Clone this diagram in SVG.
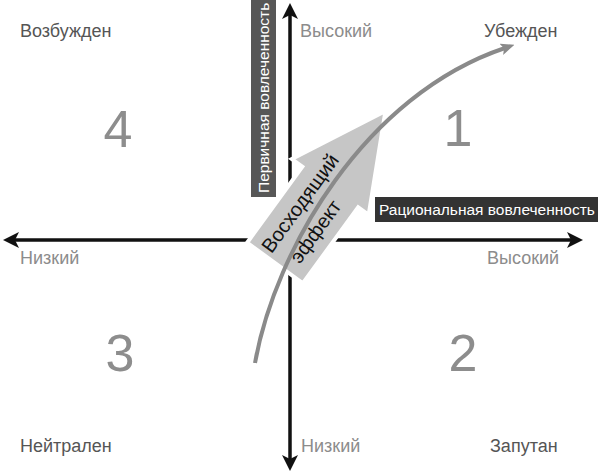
<svg xmlns="http://www.w3.org/2000/svg" width="600" height="473" viewBox="0 0 600 473">
<style>
  .lbl { font-family: "Liberation Sans", Arial, sans-serif; font-size: 18px; fill: #555555; }
  .ax { font-family: "Liberation Sans", Arial, sans-serif; font-size: 18px; fill: #8c8c8c; }
  .num { font-family: "Liberation Sans", Arial, sans-serif; font-size: 52px; fill: #8d8d8d; text-anchor: middle; }
  .axis { stroke: #111111; stroke-width: 3.5; fill: none; }
  .tag { font-family: "Liberation Sans", Arial, sans-serif; font-size: 15.5px; fill: #ffffff; }
  .eff { font-family: "Liberation Sans", Arial, sans-serif; font-size: 20px; fill: #111111; }
</style>
<defs>
  <marker id="ah" viewBox="0 0 16 16" refX="7" refY="8" markerWidth="16" markerHeight="16" markerUnits="userSpaceOnUse" orient="auto-start-reverse">
    <path d="M0,0 L16,8 L0,16 L4,8 z" fill="#111111"/>
  </marker>
  <marker id="ch" viewBox="0 0 14 12" refX="4" refY="6" markerWidth="14" markerHeight="12" markerUnits="userSpaceOnUse" orient="auto">
    <path d="M0,0 L14,6 L0,12 L3,6 z" fill="#8a8a8a"/>
  </marker>
</defs>
<rect width="600" height="473" fill="#ffffff"/>
<g id="connectors">
  <line class="axis" x1="290" y1="462" x2="290" y2="12" marker-start="url(#ah)" marker-end="url(#ah)"/>
  <line class="axis" x1="574" y1="240" x2="12" y2="240" marker-start="url(#ah)" marker-end="url(#ah)"/>
</g>
<g id="effect-arrow" transform="translate(275,263) rotate(-54)">
  <polygon points="0,-34.5 94,-34.5 94,-47.5 188,0 94,47.5 94,34.5 0,34.5" fill="#c6c6c6" stroke="#ffffff" stroke-width="4" stroke-linejoin="miter"/>
</g>
<g id="curve">
  <path d="M255,363 C275,250 365,95 505,48" fill="none" stroke="#8a8a8a" stroke-width="4" marker-end="url(#ch)"/>
</g>
<g id="effect-text" transform="translate(275,263) rotate(-54)">
  <text class="eff" x="5" y="-8">Восходящий</text>
  <text class="eff" x="13" y="21">эффект</text>
</g>
<g id="y-label">
  <rect x="251" y="0" width="25" height="197" fill="#575757"/>
  <text class="tag" fill="#f2f2f2" transform="translate(269,193) rotate(-90)">Первичная вовлеченность</text>
</g>
<g id="x-label">
  <rect x="375" y="197" width="223" height="25" fill="#333333"/>
  <text class="tag" x="379" y="215">Рациональная вовлеченность</text>
</g>
<g id="q4">
  <text class="lbl" x="20" y="37">Возбужден</text>
  <text class="num" x="118" y="147">4</text>
</g>
<g id="q1">
  <text class="lbl" x="484" y="37">Убежден</text>
  <text class="num" x="458" y="146">1</text>
</g>
<g id="q3">
  <text class="lbl" x="20" y="452">Нейтрален</text>
  <text class="num" x="120" y="371">3</text>
</g>
<g id="q2">
  <text class="lbl" x="490" y="452">Запутан</text>
  <text class="num" x="463" y="371">2</text>
</g>
<g id="axis-labels">
  <text class="ax" x="300" y="37">Высокий</text>
  <text class="ax" x="301" y="452">Низкий</text>
  <text class="ax" x="20" y="264">Низкий</text>
  <text class="ax" x="487" y="264">Высокий</text>
</g>
</svg>
